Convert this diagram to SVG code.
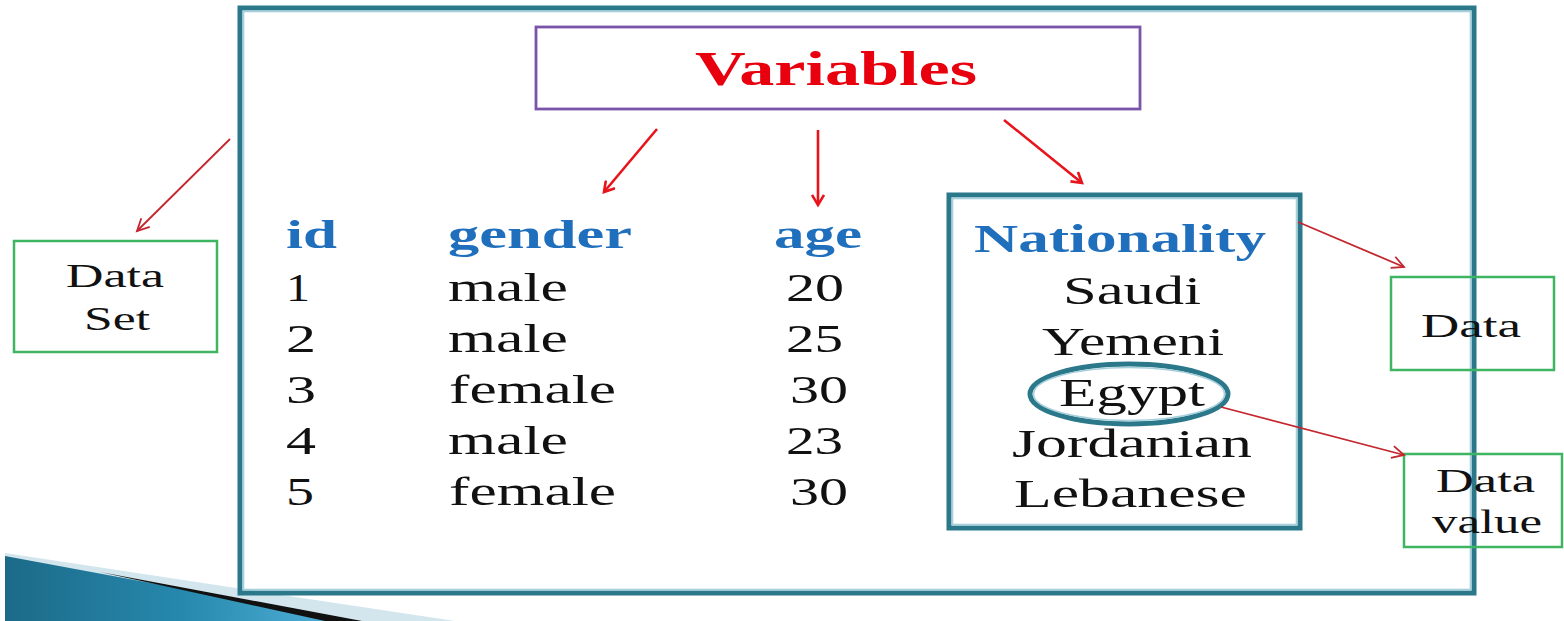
<svg xmlns="http://www.w3.org/2000/svg" width="1564" height="621" viewBox="0 0 1564 621">
<style>
  .t { font-family: "Liberation Serif", "Times New Roman", serif; font-size: 41px; fill: #111; }
  .h { font-family: "Liberation Serif", "Times New Roman", serif; font-size: 41px; font-weight: bold; fill: #1f6fbd; }
  .lbl { font-family: "Liberation Serif", "Times New Roman", serif; font-size: 34px; fill: #111; }
  .teal { fill: none; stroke: #2b788b; stroke-width: 5; }
  .tealin { fill: none; stroke: #a6d0dc; stroke-width: 1.8; }
  .green { fill: #fff; stroke: #3fb562; stroke-width: 2.5; }
  .arrA { fill: none; stroke: #e8141c; stroke-width: 2.6; marker-end: url(#hA); }
  .arrB { fill: none; stroke: #c4262e; stroke-width: 1.8; marker-end: url(#hB); }
</style>
<defs>
  <marker id="hA" markerWidth="14" markerHeight="14" refX="11" refY="7" orient="auto" markerUnits="userSpaceOnUse">
    <path d="M1,1 L11,7 L1,13" fill="none" stroke="#e8141c" stroke-width="2.6"/>
  </marker>
  <marker id="hB" markerWidth="16" markerHeight="16" refX="13" refY="8" orient="auto" markerUnits="userSpaceOnUse">
    <path d="M1,2 L13,8 L1,14" fill="none" stroke="#c4262e" stroke-width="1.8"/>
  </marker>
  <linearGradient id="wedge" x1="0" y1="0" x2="1" y2="0">
    <stop offset="0" stop-color="#1c6a88"/>
    <stop offset="0.5" stop-color="#2688ad"/>
    <stop offset="1" stop-color="#56b4dc"/>
  </linearGradient>
</defs>

<g id="decoration">
  <polygon points="5,553 455,621 5,621" fill="#d3e6ed"/>
  <polygon points="5,556 355,621 5,621" fill="url(#wedge)"/>
  <polygon points="100,572 362,621 325,621" fill="#111"/>
</g>

<g id="frame">
  <rect x="240" y="8" width="1234" height="585" class="teal"/>
  <rect x="243.4" y="11.4" width="1227.2" height="578.2" class="tealin"/>
</g>

<g id="variables">
  <rect x="536" y="27" width="604" height="82" fill="#fff" stroke="#7a54a8" stroke-width="2.8"/>
  <text x="695" y="85" font-family="Liberation Serif, Times New Roman, serif" font-size="48" font-weight="bold" fill="#e8000e" textLength="282" lengthAdjust="spacingAndGlyphs">Variables</text>
</g>

<g id="table">
  <text class="h" x="286" y="248" textLength="51" lengthAdjust="spacingAndGlyphs">id</text>
  <text class="h" x="448" y="248" textLength="184" lengthAdjust="spacingAndGlyphs">gender</text>
  <text class="h" x="774" y="248" textLength="88" lengthAdjust="spacingAndGlyphs">age</text>

  <text class="t" x="286" y="301" textLength="24" lengthAdjust="spacingAndGlyphs">1</text>
  <text class="t" x="286" y="352" textLength="30" lengthAdjust="spacingAndGlyphs">2</text>
  <text class="t" x="286" y="403" textLength="30" lengthAdjust="spacingAndGlyphs">3</text>
  <text class="t" x="286" y="454" textLength="30" lengthAdjust="spacingAndGlyphs">4</text>
  <text class="t" x="286" y="505" textLength="28" lengthAdjust="spacingAndGlyphs">5</text>

  <text class="t" x="448" y="301" textLength="120" lengthAdjust="spacingAndGlyphs">male</text>
  <text class="t" x="448" y="352" textLength="120" lengthAdjust="spacingAndGlyphs">male</text>
  <text class="t" x="449" y="403" textLength="167" lengthAdjust="spacingAndGlyphs">female</text>
  <text class="t" x="448" y="454" textLength="120" lengthAdjust="spacingAndGlyphs">male</text>
  <text class="t" x="449" y="505" textLength="167" lengthAdjust="spacingAndGlyphs">female</text>

  <text class="t" x="786" y="301" textLength="58" lengthAdjust="spacingAndGlyphs">20</text>
  <text class="t" x="786" y="352" textLength="57" lengthAdjust="spacingAndGlyphs">25</text>
  <text class="t" x="790" y="403" textLength="58" lengthAdjust="spacingAndGlyphs">30</text>
  <text class="t" x="786" y="454" textLength="57" lengthAdjust="spacingAndGlyphs">23</text>
  <text class="t" x="790" y="505" textLength="58" lengthAdjust="spacingAndGlyphs">30</text>
</g>

<g id="nationality">
  <rect x="949" y="195" width="351" height="333" class="teal"/>
  <rect x="952.4" y="198.4" width="344.2" height="326.2" class="tealin"/>
  <text class="h" x="974" y="252" textLength="292" lengthAdjust="spacingAndGlyphs">Nationality</text>
  <text class="t" x="1063" y="304" textLength="138" lengthAdjust="spacingAndGlyphs">Saudi</text>
  <text class="t" x="1042" y="355" textLength="182" lengthAdjust="spacingAndGlyphs">Yemeni</text>
  <text class="t" x="1059" y="406" textLength="146" lengthAdjust="spacingAndGlyphs">Egypt</text>
  <text class="t" x="1012" y="457" textLength="240" lengthAdjust="spacingAndGlyphs">Jordanian</text>
  <text class="t" x="1014" y="507" textLength="233" lengthAdjust="spacingAndGlyphs">Lebanese</text>
</g>

<g id="egypt-mark">
  <ellipse cx="1129" cy="394" rx="99" ry="30" fill="none" stroke="#2b788b" stroke-width="5"/>
  <ellipse cx="1129" cy="394" rx="95.5" ry="26.5" fill="none" stroke="#a6d0dc" stroke-width="1.6"/>
</g>

<g id="data-set">
  <rect x="14" y="241" width="203" height="111" class="green"/>
  <text class="lbl" x="66" y="287" textLength="98" lengthAdjust="spacingAndGlyphs">Data</text>
  <text class="lbl" x="84" y="330" textLength="66" lengthAdjust="spacingAndGlyphs">Set</text>
</g>

<g id="data">
  <rect x="1391" y="277" width="163" height="93" fill="none" stroke="#3fb562" stroke-width="2.5"/>
  <text class="lbl" x="1421" y="337" textLength="100" lengthAdjust="spacingAndGlyphs">Data</text>
</g>

<g id="data-value">
  <rect x="1404" y="454" width="158" height="93" fill="none" stroke="#3fb562" stroke-width="2.5"/>
  <text class="lbl" x="1436" y="492" textLength="99" lengthAdjust="spacingAndGlyphs">Data</text>
  <text class="lbl" x="1432" y="533" textLength="110" lengthAdjust="spacingAndGlyphs">value</text>
</g>

<g id="connectors">
  <line class="arrA" x1="657" y1="129" x2="604" y2="192"/>
  <line class="arrA" x1="818" y1="130" x2="818" y2="205"/>
  <line class="arrA" x1="1004" y1="120" x2="1082" y2="183"/>
  <line class="arrB" x1="230" y1="139" x2="137" y2="231"/>
  <line class="arrB" x1="1298" y1="222" x2="1404" y2="267"/>
  <line class="arrB" x1="1221" y1="407" x2="1404" y2="455"/>
</g>
</svg>
